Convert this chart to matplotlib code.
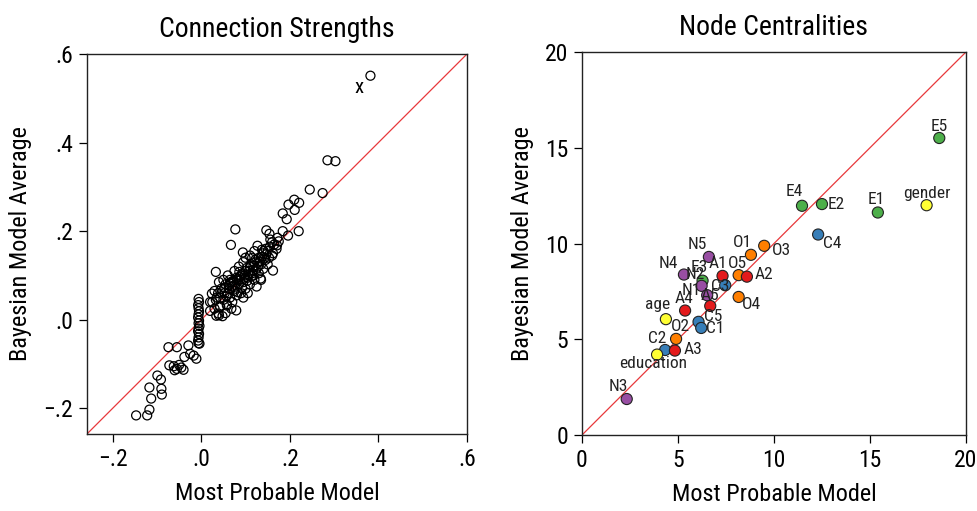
import matplotlib
matplotlib.use('Agg')
import matplotlib.pyplot as plt
from matplotlib import font_manager
from matplotlib.ticker import FuncFormatter

# connection strengths: most probable model (x) vs bayesian model average (y)
edge_mp = [
    0.382, 0.285, 0.303, 0.245, 0.274, 0.210, 0.221, 0.197, 0.211, 0.184, 0.193,
    0.077, 0.067, 0.147, 0.154, 0.184, 0.220, 0.196, 0.156, 0.175, 0.171, 0.127,
    0.137, 0.094, 0.153, 0.162, 0.033, 0.134,
    0.030, 0.035, 0.025, 0.020, 0.030, 0.040, 0.048, 0.055, 0.042, 0.050, 0.060,
    0.045, 0.055, 0.065, 0.070, 0.075, 0.080, 0.085, 0.090, 0.095, 0.100, 0.105,
    0.110, 0.115, 0.120, 0.125, 0.130, 0.135, 0.140, 0.145, 0.150, 0.160, 0.155,
    0.165, 0.170, 0.100, 0.110, 0.120, 0.090, 0.080, 0.070, 0.065, 0.085, 0.095,
    0.075, 0.060, 0.050, 0.040, 0.038, 0.058, 0.068, 0.100, 0.110, 0.120, 0.130,
    0.140, 0.150, 0.125, 0.135, 0.105, 0.095, 0.073, 0.088, 0.098, 0.108, 0.118,
    0.128, 0.063, 0.053, 0.043, 0.033, 0.078, 0.115, 0.145, 0.160, 0.172, 0.162,
    0.079, 0.039, 0.034, 0.043, 0.058, 0.020, 0.024, 0.092, 0.104, 0.083, 0.113,
    0.046, 0.052, 0.062, 0.067, 0.072, 0.082, 0.087, 0.093, 0.097, 0.103, 0.107,
    0.112, 0.117, 0.122, 0.127, 0.132, 0.137, 0.142, 0.147, 0.057, 0.064, 0.076,
    0.086, 0.118, 0.141,
    -0.006, -0.005, -0.007, -0.006, -0.005, -0.006, -0.007, -0.005, -0.006,
    -0.004, -0.006, -0.007, -0.005, -0.006, -0.007, -0.004,
    -0.074, -0.055, -0.029, -0.006, -0.038, -0.025, -0.017, -0.011, -0.072,
    -0.062, -0.055, -0.060, -0.045, -0.050, -0.040, -0.099, -0.091, -0.117,
    -0.090, -0.089, -0.113, -0.117, -0.122, -0.147,
]
edge_bma = [
    0.551, 0.360, 0.358, 0.294, 0.286, 0.271, 0.264, 0.260, 0.248, 0.240, 0.227,
    0.204, 0.169, 0.202, 0.194, 0.200, 0.200, 0.190, 0.181, 0.177, 0.168, 0.167,
    0.158, 0.152, 0.140, 0.111, 0.108, 0.093,
    0.065, 0.050, 0.040, 0.020, 0.025, 0.010, 0.008, 0.015, 0.030, 0.045, 0.060,
    0.070, 0.080, 0.090, 0.075, 0.065, 0.095, 0.080, 0.100, 0.085, 0.110, 0.095,
    0.120, 0.105, 0.130, 0.115, 0.140, 0.125, 0.150, 0.135, 0.155, 0.145, 0.165,
    0.170, 0.160, 0.070, 0.080, 0.090, 0.060, 0.055, 0.040, 0.050, 0.120, 0.130,
    0.110, 0.100, 0.090, 0.085, 0.060, 0.035, 0.025, 0.140, 0.145, 0.155, 0.105,
    0.115, 0.125, 0.075, 0.090, 0.060, 0.050, 0.085, 0.090, 0.100, 0.110, 0.100,
    0.120, 0.070, 0.060, 0.050, 0.045, 0.070, 0.140, 0.160, 0.175, 0.185, 0.150,
    0.021, 0.014, 0.009, 0.029, 0.032, 0.040, 0.059, 0.072, 0.088, 0.062, 0.098,
    0.062, 0.072, 0.078, 0.085, 0.088, 0.092, 0.097, 0.105, 0.093, 0.117, 0.102,
    0.125, 0.112, 0.135, 0.128, 0.131, 0.142, 0.138, 0.148, 0.053, 0.082, 0.078,
    0.108, 0.122, 0.155,
    0.047, 0.040, 0.033, 0.026, 0.019, 0.012, 0.005, -0.002, -0.008,
    -0.014, -0.020, -0.026, -0.032, -0.040, -0.047, -0.054,
    -0.062, -0.062, -0.058, -0.053, -0.084, -0.077, -0.081, -0.088, -0.103,
    -0.105, -0.111, -0.114, -0.108, -0.102, -0.113, -0.126, -0.135, -0.153,
    -0.156, -0.169, -0.178, -0.203, -0.216, -0.216,
]

# node centralities
nodes = ['E5', 'gender', 'E1', 'E2', 'E4', 'C4', 'O3', 'O1', 'N5', 'N4', 'A1',
         'O5', 'A2', 'E3', 'N2', 'C3', 'N1', 'O4', 'A5', 'A4', 'age', 'C5',
         'C1', 'O2', 'C2', 'A3', 'education', 'N3']
node_mp = [18.61, 17.95, 15.41, 12.50, 11.46, 12.30, 9.49, 8.80, 6.61, 5.31, 7.32,
           8.16, 8.59, 6.28, 6.23, 7.46, 6.52, 8.16, 6.68, 5.37, 4.37, 6.07,
           6.21, 4.90, 4.33, 4.84, 3.91, 2.33]
node_bma = [15.51, 12.00, 11.62, 12.06, 11.97, 10.47, 9.88, 9.41, 9.30, 8.38, 8.31,
            8.35, 8.27, 8.06, 7.79, 7.82, 7.30, 7.21, 6.74, 6.50, 6.05, 5.91,
            5.59, 5.02, 4.44, 4.41, 4.20, 1.88]

group_colors = {'E': '#4DAF4A', 'C': '#377EB8', 'O': '#FF7F00', 'A': '#E41A1C',
                'N': '#984EA3', 'D': '#FFFF33'}

# label offsets in pixels (dx, dy) relative to the node
label_offsets = {
    'E5': (0, 12), 'gender': (0, 12), 'E1': (-2, 13), 'E2': (14, 0),
    'E4': (-8, 14), 'C4': (14, -9), 'O3': (17, -5), 'O1': (-9, 12),
    'N5': (-12, 12), 'N4': (-16, 11), 'A1': (-5, 12), 'O5': (-1, 12),
    'A2': (17, 2), 'E3': (-3, 13), 'N2': (-6, 11), 'C3': (-5, -1),
    'N1': (-16, 5), 'O4': (13, -8), 'A5': (0, 10), 'A4': (-1, 12),
    'age': (-8, 15), 'C5': (15, 5), 'C1': (14, -1), 'O2': (4, 12),
    'C2': (-8, 11), 'A3': (18, 1), 'education': (-4, -9), 'N3': (-8, 13),
}


def pick_font():
    for name in ['Liberation Sans Narrow', 'Roboto Condensed', 'Liberation Sans']:
        try:
            font_manager.findfont(font_manager.FontProperties(family=name),
                                  fallback_to_default=False)
            return name
        except ValueError:
            continue
    return 'DejaVu Sans'


plt.rcParams['font.family'] = [pick_font(), 'DejaVu Sans']


def frac_fmt(v, pos):
    s = '%.1f' % v
    if s.startswith('-'):
        return '\u2212' + s[1:].lstrip('0')
    return s.lstrip('0') if s != '0.0' else '.0'


def style_axes(ax):
    for sp in ax.spines.values():
        sp.set_linewidth(1.0)
        sp.set_color('#222222')
    ax.tick_params(direction='out', length=6, width=0.9, labelsize=17,
                   top=False, right=False, pad=4)
    ax.set_xlabel('Most Probable Model', fontsize=17.5, labelpad=8)
    ax.set_ylabel('Bayesian Model Average', fontsize=17.5, labelpad=8)


fig = plt.figure(figsize=(9.77, 5.11), dpi=100)

# left panel
ax1 = fig.add_axes([0.089, 0.1507, 0.389, 0.7436])
lim1 = (-0.258, 0.6)
ax1.plot(lim1, lim1, color='#E8383B', lw=0.9, zorder=1)
ax1.scatter(edge_mp, edge_bma, s=42, facecolors='none', edgecolors='black',
            linewidths=0.9, zorder=2)
ax1.text(0.356, 0.524, 'x', fontsize=15, ha='center', va='center')
ax1.set_xlim(lim1)
ax1.set_ylim(lim1)
ax1.set_xticks([-0.2, 0.0, 0.2, 0.4, 0.6])
ax1.set_yticks([-0.2, 0.0, 0.2, 0.4, 0.6])
ax1.xaxis.set_major_formatter(FuncFormatter(frac_fmt))
ax1.yaxis.set_major_formatter(FuncFormatter(frac_fmt))
style_axes(ax1)
ax1.set_title('Connection Strengths', fontsize=20, pad=12)

# right panel
ax2 = fig.add_axes([0.5957, 0.1487, 0.393, 0.7495])
ax2.plot([0, 20], [0, 20], color='#E8383B', lw=0.9, zorder=1)
cols = [group_colors[n[0]] if n[0] in 'ECOAN' and len(n) == 2 else group_colors['D']
        for n in nodes]
ax2.scatter(node_mp, node_bma, s=64, c=cols, edgecolors='#222222',
            linewidths=0.8, zorder=3)
for n, xv, yv in zip(nodes, node_mp, node_bma):
    dx, dy = label_offsets[n]
    ax2.annotate(n, (xv, yv), xytext=(dx, dy), textcoords='offset pixels',
                 ha='center', va='center', fontsize=12.5, color='#222222', zorder=4)
ax2.set_xlim(0, 20)
ax2.set_ylim(0, 20)
ax2.set_xticks([0, 5, 10, 15, 20])
ax2.set_yticks([0, 5, 10, 15, 20])
style_axes(ax2)
ax2.set_title('Node Centralities', fontsize=20, pad=12)

fig.savefig('out.png', dpi=100)
